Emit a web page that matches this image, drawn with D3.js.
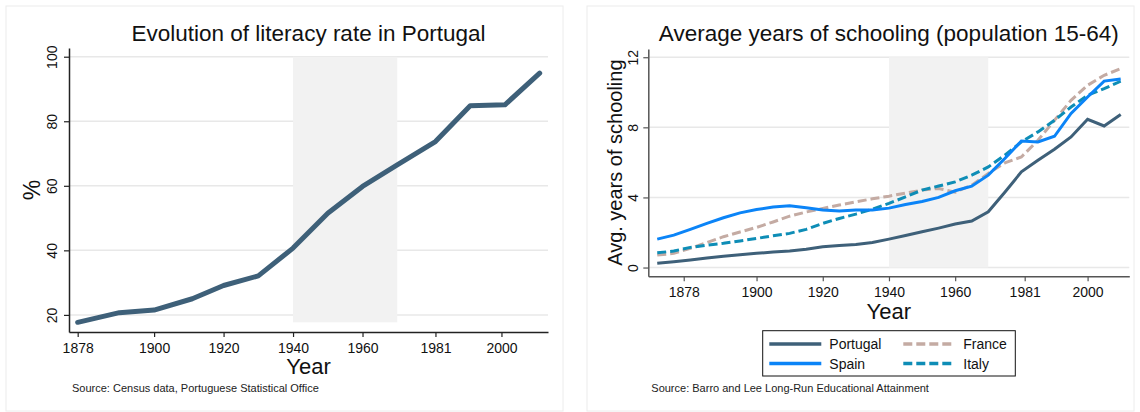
<!DOCTYPE html>
<html>
<head>
<meta charset="utf-8">
<script src="https://cdn.jsdelivr.net/npm/d3@7"></script>
<style>
  body { margin: 0; background: #fff; }
  svg { font-family: "Liberation Sans", Arial, sans-serif; }
</style>
</head>
<body>
<div id="chart"></div>
<script>
// data
const censusYears = [1878, 1890, 1900, 1911, 1920, 1930, 1940, 1950, 1960, 1970, 1981, 1991, 2001, 2011];
const literacyRate = [17.7, 20.7, 21.5, 25.0, 29.1, 32.1, 40.7, 51.5, 59.8, 66.5, 73.7, 84.8, 85.1, 94.9];

const schoolingYears = [1870, 1875, 1880, 1885, 1890, 1895, 1900, 1905, 1910, 1915, 1920, 1925, 1930, 1935,
  1940, 1945, 1950, 1955, 1960, 1965, 1970, 1975, 1980, 1985, 1990, 1995, 2000, 2005, 2010];
const portugal = [0.24, 0.33, 0.43, 0.54, 0.65, 0.73, 0.81, 0.88, 0.94, 1.04, 1.19, 1.26, 1.32, 1.43,
  1.62, 1.83, 2.04, 2.25, 2.48, 2.65, 3.18, 4.3, 5.46, 6.12, 6.75, 7.45, 8.46, 8.08, 8.73];
const spain = [1.62, 1.85, 2.18, 2.52, 2.84, 3.12, 3.31, 3.45, 3.52, 3.41, 3.28, 3.22, 3.29, 3.29,
  3.39, 3.6, 3.77, 4.0, 4.38, 4.64, 5.27, 6.22, 7.22, 7.17, 7.49, 8.79, 9.73, 10.64, 10.76];
const france = [0.71, 0.81, 1.09, 1.42, 1.76, 2.03, 2.29, 2.6, 2.93, 3.17, 3.37, 3.57, 3.75, 3.92,
  4.07, 4.25, 4.42, 4.51, 4.3, 4.7, 5.37, 5.97, 6.31, 7.26, 8.4, 9.54, 10.4, 10.97, 11.35];
const italy = [0.84, 0.94, 1.15, 1.27, 1.38, 1.52, 1.66, 1.81, 1.95, 2.18, 2.52, 2.8, 3.05, 3.33,
  3.66, 4.03, 4.42, 4.65, 4.89, 5.27, 5.74, 6.41, 7.17, 7.74, 8.4, 9.16, 9.83, 10.21, 10.63];

const yearTicks = [1878, 1900, 1920, 1940, 1960, 1981, 2000];
const literacyTicks = [20, 40, 60, 80, 100];
const schoolingTicks = [0, 4, 8, 12];
const shadedPeriod = [1940, 1970];

const colors = { Portugal: '#3e6079', Spain: '#0b84f7', France: '#c4aba3', Italy: '#0e8db6' };

const svg = d3.select('#chart').append('svg')
  .attr('width', 1140).attr('height', 412);

// panel frames
svg.append('rect').attr('x', 6).attr('y', 6).attr('width', 557).attr('height', 405)
  .attr('fill', 'none').attr('stroke', '#ececec');
svg.append('rect').attr('x', 587).attr('y', 6).attr('width', 547).attr('height', 405)
  .attr('fill', 'none').attr('stroke', '#ececec');

function drawPanel(o) {
  const g = svg.append('g');
  const x = d3.scaleLinear().domain(o.xDomain).range([o.left, o.right]);
  const y = d3.scaleLinear().domain(o.yDomain).range([o.bottom, o.top]);

  // grid
  g.selectAll('.grid').data(o.yTicks).enter().append('line')
    .attr('x1', o.left).attr('x2', o.right)
    .attr('y1', d => y(d)).attr('y2', d => y(d))
    .attr('stroke', '#e8e8e8').attr('stroke-width', 1.5);

  // shaded period (over the grid, like the reference)
  g.append('rect')
    .attr('x', x(shadedPeriod[0]))
    .attr('width', x(shadedPeriod[1]) - x(shadedPeriod[0]))
    .attr('y', y(o.shade[1]))
    .attr('height', y(o.shade[0]) - y(o.shade[1]))
    .attr('fill', '#f2f2f2');

  // x axis
  const xAxis = g.append('g')
    .attr('transform', `translate(0,${o.bottom})`)
    .call(d3.axisBottom(x).tickValues(yearTicks).tickFormat(d3.format('d')).tickSize(5).tickSizeOuter(0));
  xAxis.select('.domain').attr('stroke', o.axisColor).attr('stroke-width', 1.5);
  xAxis.selectAll('.tick line').attr('stroke', o.axisColor).attr('stroke-width', 1.2);
  xAxis.selectAll('.tick text').attr('font-size', 14).attr('fill', '#111').attr('dy', null).attr('y', 20.5);

  // y axis
  const yAxis = g.append('g')
    .attr('transform', `translate(${o.left},0)`)
    .call(d3.axisLeft(y).tickValues(o.yTicks).tickSize(5).tickSizeOuter(0));
  yAxis.select('.domain').attr('stroke', o.axisColor).attr('stroke-width', 1.5);
  yAxis.selectAll('.tick line').attr('stroke', o.axisColor).attr('stroke-width', 1.2);
  yAxis.selectAll('.tick text')
    .attr('font-size', 14).attr('fill', '#111')
    .attr('x', null).attr('dy', null)
    .attr('text-anchor', 'middle')
    .attr('transform', `translate(${-o.yLabelOff},0) rotate(-90)`);

  // titles
  const cx = (o.left + o.right) / 2;
  g.append('text').attr('x', cx).attr('y', 41).attr('text-anchor', 'middle')
    .attr('font-size', 22.5).attr('fill', '#111').text(o.title);
  g.append('text').attr('x', cx).attr('y', o.xTitleY).attr('text-anchor', 'middle')
    .attr('font-size', 22).attr('fill', '#111').text('Year');
  g.append('text')
    .attr('transform', `translate(${o.yTitleX},${(o.top + o.bottom) / 2}) rotate(-90)`)
    .attr('text-anchor', 'middle').attr('font-size', o.yTitleSize).attr('fill', '#111')
    .text(o.yTitle);
  g.append('text').attr('x', o.left + 3).attr('y', 392)
    .attr('font-size', 11).attr('fill', '#222').text(o.source);

  return { x, y, g };
}

// left panel: literacy
const p1 = drawPanel({
  left: 69, right: 548, top: 48, bottom: 332,
  xDomain: [1875.5, 2013.4], yDomain: [14.7, 102.7],
  yTicks: literacyTicks, shade: [d3.min(literacyRate), 100],
  axisColor: '#222', yLabelOff: 12,
  title: 'Evolution of literacy rate in Portugal',
  xTitleY: 373.5, yTitle: '%', yTitleX: 40, yTitleSize: 23,
  source: 'Source: Census data, Portuguese Statistical Office'
});

p1.g.append('path')
  .datum(censusYears.map((yr, i) => [yr, literacyRate[i]]))
  .attr('fill', 'none')
  .attr('stroke', colors.Portugal)
  .attr('stroke-width', 5)
  .attr('stroke-linejoin', 'round')
  .attr('stroke-linecap', 'round')
  .attr('d', d3.line().x(d => p1.x(d[0])).y(d => p1.y(d[1])));

// right panel: schooling
const p2 = drawPanel({
  left: 648.3, right: 1129.3, top: 49, bottom: 276.3,
  xDomain: [1867.3, 2012.6], yDomain: [-0.5, 12.47],
  yTicks: schoolingTicks, shade: [0, 12],
  axisColor: '#555', yLabelOff: 10,
  title: 'Average years of schooling (population 15-64)',
  xTitleY: 318.5, yTitle: 'Avg. years of schooling', yTitleX: 622, yTitleSize: 20,
  source: 'Source: Barro and Lee Long-Run Educational Attainment'
});

const seriesList = [
  { name: 'Portugal', values: portugal, dash: null },
  { name: 'Spain', values: spain, dash: null },
  { name: 'France', values: france, dash: '9,4' },
  { name: 'Italy', values: italy, dash: '9,4' }
];

const line2 = d3.line().x(d => p2.x(d[0])).y(d => p2.y(d[1]));
// draw order: France, Italy, Spain, Portugal
[seriesList[2], seriesList[3], seriesList[1], seriesList[0]].forEach(s => {
  p2.g.append('path')
    .datum(schoolingYears.map((yr, i) => [yr, s.values[i]]))
    .attr('fill', 'none')
    .attr('stroke', colors[s.name])
    .attr('stroke-width', 3)
    .attr('stroke-dasharray', s.dash)
    .attr('d', line2);
});

// legend
const lg = svg.append('g');
lg.append('rect').attr('x', 762.7).attr('y', 330.7).attr('width', 252.6).attr('height', 45.3)
  .attr('fill', '#fff').attr('stroke', '#111').attr('stroke-width', 1);
const legendItems = [
  { s: seriesList[0], col: 0, row: 0 },
  { s: seriesList[2], col: 1, row: 0 },
  { s: seriesList[1], col: 0, row: 1 },
  { s: seriesList[3], col: 1, row: 1 }
];
legendItems.forEach(it => {
  const x0 = it.col === 0 ? 769.3 : 903.3;
  const yy = it.row === 0 ? 344 : 363.5;
  lg.append('line').attr('x1', x0).attr('x2', x0 + 52).attr('y1', yy).attr('y2', yy)
    .attr('stroke', colors[it.s.name]).attr('stroke-width', 3.3)
    .attr('stroke-dasharray', it.s.dash);
  lg.append('text').attr('x', x0 + 60).attr('y', yy + 5)
    .attr('font-size', 14).attr('fill', '#111').text(it.s.name);
});
</script>
</body>
</html>
